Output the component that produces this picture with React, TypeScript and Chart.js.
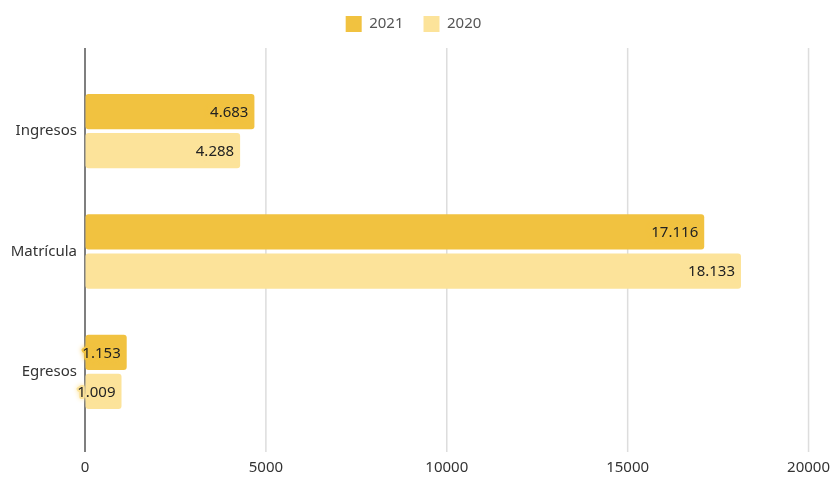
import React, { useEffect, useRef } from "react";
import { Chart, registerables } from "chart.js";

Chart.register(...registerables);

const categories = ["Ingresos", "Matrícula", "Egresos"];
const seriesNames = ["2021", "2020"];
const values2021 = [4683, 17116, 1153];
const values2020 = [4288, 18133, 1009];
const xTicks = [0, 5000, 10000, 15000, 20000];

const COLORS = ["#F1C240", "#FCE39A"];
const FONT = "'Noto Sans', sans-serif";

const fmt = (v: number) => String(v).replace(/\B(?=(\d{3})+(?!\d))/g, ".");

const legendSpacer = {
  id: "legendSpacer",
  beforeInit(chart: any) {
    const legend = chart.legend;
    if (!legend) return;
    const orig = legend.fit;
    legend.fit = function () {
      orig.call(this);
      this.height += 29;
    };
  },
};

const gridPlugin = {
  id: "customGrid",
  beforeDatasetsDraw(chart: any) {
    const { ctx, chartArea, scales } = chart;
    const x = scales.x;
    const top = chartArea.top - 23;
    const bottom = chartArea.bottom + 20;
    ctx.save();
    ctx.strokeStyle = "#dddddd";
    ctx.lineWidth = 1.5;
    xTicks.forEach((t) => {
      if (t === 0) return;
      const px = x.getPixelForValue(t);
      ctx.beginPath();
      ctx.moveTo(px, top);
      ctx.lineTo(px, bottom);
      ctx.stroke();
    });
    const p0 = x.getPixelForValue(0);
    ctx.strokeStyle = "#555555";
    ctx.lineWidth = 1.5;
    ctx.beginPath();
    ctx.moveTo(p0, top);
    ctx.lineTo(p0, bottom);
    ctx.stroke();
    ctx.restore();
  },
};

const labelPlugin = {
  id: "barLabels",
  afterDatasetsDraw(chart: any) {
    const { ctx } = chart;
    ctx.save();
    ctx.font = `15px ${FONT}`;
    ctx.textAlign = "right";
    ctx.textBaseline = "middle";
    ctx.lineJoin = "round";
    chart.data.datasets.forEach((ds: any, di: number) => {
      const meta = chart.getDatasetMeta(di);
      meta.data.forEach((bar: any, i: number) => {
        const text = fmt(ds.data[i]);
        const xx = bar.x - 6;
        const yy = bar.y + 1;
        ctx.save();
        ctx.shadowColor = COLORS[di];
        ctx.shadowBlur = 5;
        ctx.strokeStyle = COLORS[di];
        ctx.lineWidth = 4;
        ctx.strokeText(text, xx, yy);
        ctx.restore();
        ctx.fillStyle = "#222222";
        ctx.fillText(text, xx, yy);
      });
    });
    ctx.restore();
  },
};

export default function App() {
  const ref = useRef<HTMLCanvasElement | null>(null);
  useEffect(() => {
    if (!ref.current) return;
    const chart = new Chart(ref.current, {
      type: "bar",
      data: {
        labels: categories,
        datasets: [
          {
            label: seriesNames[0],
            data: values2021,
            backgroundColor: COLORS[0],
            borderRadius: 3,
            borderSkipped: false,
            categoryPercentage: 0.65,
            barPercentage: 0.9,
          },
          {
            label: seriesNames[1],
            data: values2020,
            backgroundColor: COLORS[1],
            borderRadius: 3,
            borderSkipped: false,
            categoryPercentage: 0.65,
            barPercentage: 0.9,
          },
        ],
      },
      options: {
        indexAxis: "y",
        animation: false,
        responsive: true,
        maintainAspectRatio: false,
        layout: { padding: { top: -4, right: 6, bottom: 0, left: 0 } },
        plugins: {
          legend: {
            position: "top",
            labels: {
              boxWidth: 16,
              boxHeight: 16,
              padding: 20,
              color: "#555",
              font: { family: FONT, size: 15 },
            },
          },
          tooltip: { enabled: false },
        },
        scales: {
          x: {
            min: 0,
            max: 20000,
            afterBuildTicks: (s: any) => {
              s.ticks = xTicks.map((v) => ({ value: v }));
            },
            afterFit: (s: any) => {
              s.height = 45;
            },
            grid: {
              display: true,
              drawOnChartArea: false,
              drawTicks: true,
              tickLength: 24,
              tickColor: "rgba(0,0,0,0)",
            },
            border: { display: false },
            ticks: {
              padding: 3,
              color: "#333",
              font: { family: FONT, size: 15 },
              callback: (v: any) => String(v),
            },
          },
          y: {
            afterFit: (s: any) => {
              s.width = 85;
            },
            grid: { display: false, drawTicks: false },
            border: { display: false },
            ticks: {
              padding: 8,
              color: "#333",
              font: { family: FONT, size: 15 },
            },
          },
        },
      },
      plugins: [legendSpacer, gridPlugin, labelPlugin],
    } as any);
    return () => chart.destroy();
  }, []);
  return (
    <div style={{ position: "fixed", left: 0, top: 0, width: 833, height: 477, background: "#fff" }}>
      <canvas ref={ref} />
    </div>
  );
}
